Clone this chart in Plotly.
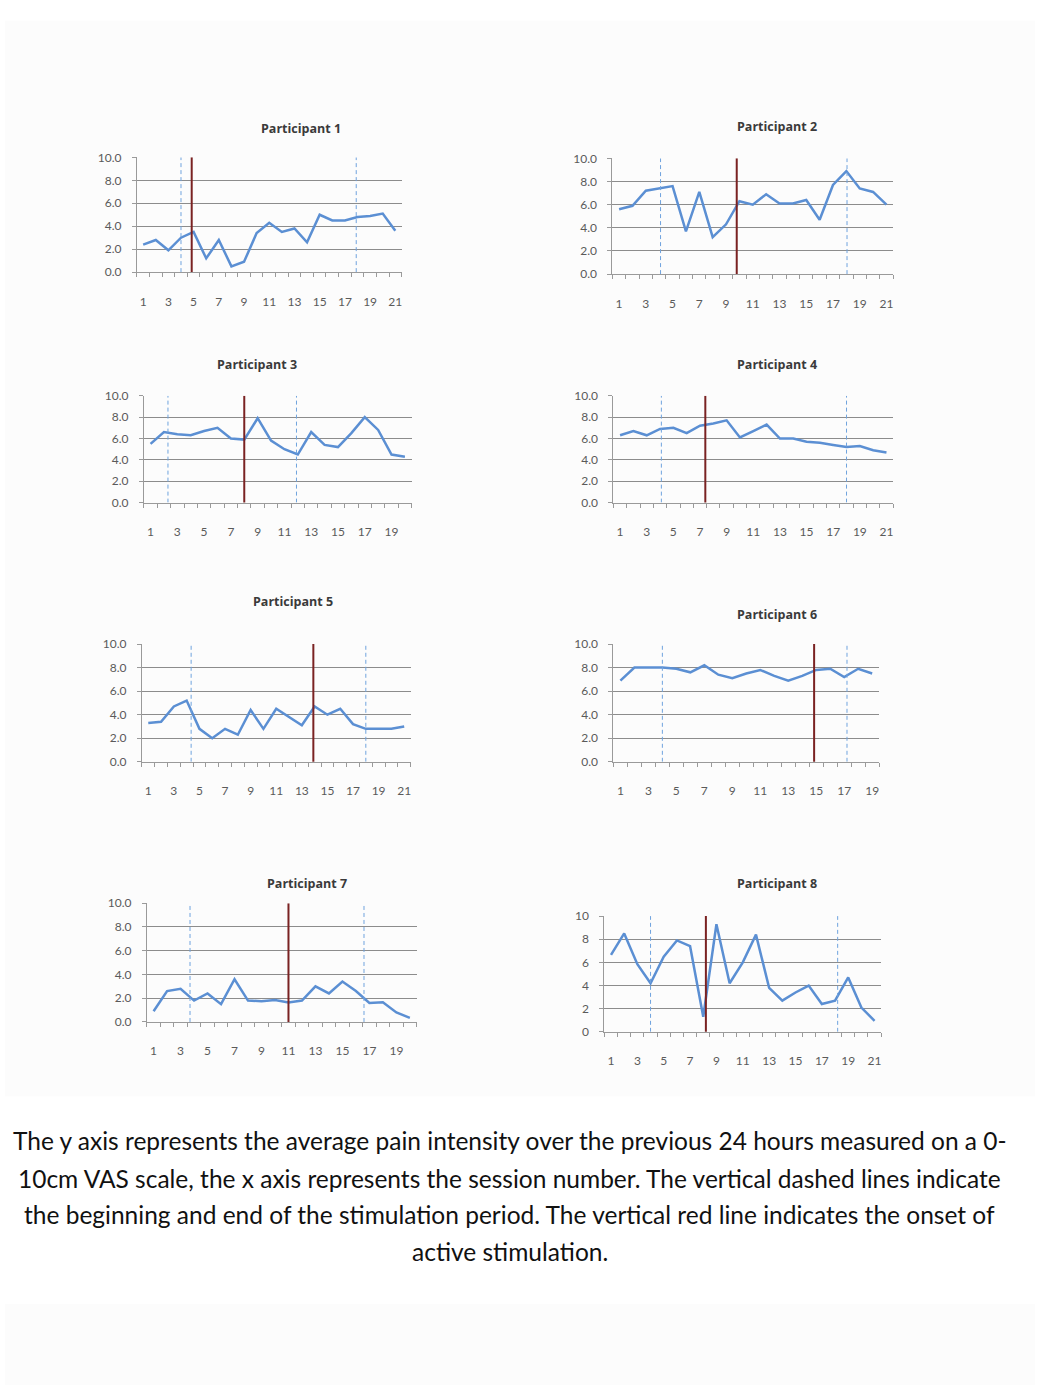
import plotly.graph_objects as go

W, H = 1044, 1392

# ---------------- data ----------------
titles = ["Participant 1", "Participant 2", "Participant 3", "Participant 4",
          "Participant 5", "Participant 6", "Participant 7", "Participant 8"]

p1 = [2.4, 2.8, 1.9, 3.0, 3.5, 1.2, 2.8, 0.5, 0.9, 3.4, 4.3, 3.5, 3.8, 2.6, 5.0, 4.5, 4.5, 4.8, 4.9, 5.1, 3.6]
p2 = [5.6, 5.9, 7.2, 7.4, 7.6, 3.7, 7.1, 3.2, 4.3, 6.3, 6.0, 6.9, 6.1, 6.1, 6.4, 4.7, 7.7, 8.9, 7.4, 7.1, 6.0]
p3 = [5.5, 6.6, 6.4, 6.3, 6.7, 7.0, 6.0, 5.9, 7.9, 5.8, 5.0, 4.5, 6.6, 5.4, 5.2, 6.5, 8.0, 6.8, 4.5, 4.3]
p4 = [6.3, 6.7, 6.3, 6.9, 7.0, 6.5, 7.2, 7.4, 7.7, 6.1, 6.7, 7.3, 6.0, 6.0, 5.7, 5.6, 5.4, 5.2, 5.3, 4.9, 4.7]
p5 = [3.3, 3.4, 4.7, 5.2, 2.8, 2.0, 2.8, 2.3, 4.4, 2.8, 4.5, 3.8, 3.1, 4.7, 4.0, 4.5, 3.2, 2.8, 2.8, 2.8, 3.0]
p6 = [6.9, 8.0, 8.0, 8.0, 7.9, 7.6, 8.2, 7.4, 7.1, 7.5, 7.8, 7.3, 6.9, 7.3, 7.8, 7.9, 7.2, 7.9, 7.5]
p7 = [0.9, 2.6, 2.8, 1.8, 2.4, 1.5, 3.6, 1.8, 1.75, 1.85, 1.65, 1.8, 3.0, 2.4, 3.4, 2.6, 1.6, 1.65, 0.8, 0.35]
p8 = [6.65, 8.5, 5.85, 4.2, 6.5, 7.9, 7.4, 1.3, 9.3, 4.2, 6.0, 8.4, 3.8, 2.7, 3.4, 4.0, 2.4, 2.7, 4.7, 2.1, 0.95]
series = [p1, p2, p3, p4, p5, p6, p7, p8]

# session positions of stimulation period (dashed) and active onset (red)
dashed_sessions = [[4.0, 17.9], [4.1, 18.05], [2.3, 11.9], [4.1, 18.0],
                   [4.35, 18.0], [4.0, 17.2], [3.7, 16.6], [4.0, 18.2]]
onset_sessions = [4.85, 9.8, 8.0, 7.4, 13.9, 14.85, 11.0, 8.2]

y_ticks = [0, 2, 4, 6, 8, 10]
y_formats = [".1f"] * 7 + ["d"]

caption_lines = [
    "The y axis represents the average pain intensity over the previous 24 hours measured on a 0-",
    "10cm VAS scale, the x axis represents the session number. The vertical dashed lines indicate",
    "the beginning and end of the stimulation period. The vertical red line indicates the onset of",
    "active stimulation.",
]

# ---------------- layout geometry (pixels) ----------------
boxes = [  # x0, x1, y_top, y_bottom
    (137, 402, 151, 267),
    (613, 894, 152, 269),
    (144, 412, 392, 500),
    (614, 894, 392, 500),
    (142, 411, 643, 762),
    (614, 880, 643, 762),
    (147, 417, 905, 1025),
    (605, 882, 918, 1035),
]
title_pos = [(301, 122), (778, 120), (257, 360), (778, 360),
             (293, 600), (778, 613), (307, 885), (778, 885)]

LINE = "#5b8fd3"
GRID = "#8c8c8c"
AXIS = "#9a9a9a"
TICKF = dict(family="Lato, 'Open Sans', sans-serif", size=12, color="#5a5a5a")

fig = go.Figure()

# faint picture background blocks
fig.add_shape(type="rect", xref="paper", yref="paper",
              x0=5 / W, x1=1036 / W, y0=1 - 1100 / H, y1=1 - 13 / H,
              fillcolor="#fcfcfc", line_width=0, layer="below")
fig.add_shape(type="rect", xref="paper", yref="paper",
              x0=5 / W, x1=1036 / W, y0=0, y1=1 - 1310 / H,
              fillcolor="#fcfcfc", line_width=0, layer="below")

for i, vals in enumerate(series):
    n = len(vals)
    k = "" if i == 0 else str(i + 1)
    xa, ya = "x" + k, "y" + k
    sessions = list(range(1, n + 1))
    fig.add_trace(go.Scatter(x=sessions, y=vals, mode="lines",
                             line=dict(color=LINE, width=2.5),
                             xaxis=xa, yaxis=ya, showlegend=False))
    x0, x1, yt, yb = boxes[i]
    fig.layout["xaxis" + k] = dict(
        domain=[x0 / W, x1 / W], anchor=ya, range=[0.5, n + 0.5],
        tickmode="array", tickvals=sessions[::2], ticktext=[str(s) for s in sessions[::2]],
        ticks="", showgrid=False, zeroline=False,
        showline=True, linecolor=AXIS, linewidth=1,
        tickfont=TICKF, ticklabelstandoff=18,
        minor=dict(tickmode="linear", tick0=0.5, dtick=1, ticks="outside",
                   ticklen=4, tickcolor=AXIS, showgrid=False),
        fixedrange=True,
    )
    fig.layout["yaxis" + k] = dict(
        domain=[1 - yb / H, 1 - yt / H], anchor=xa, range=[0, 10],
        tickmode="array", tickvals=y_ticks,
        ticktext=[format(v, y_formats[i]) if y_formats[i] == "d" else format(float(v), y_formats[i]) for v in y_ticks],
        ticks="outside", ticklen=4, tickcolor=AXIS,
        showgrid=True, gridcolor=GRID, gridwidth=1, zeroline=False,
        showline=True, linecolor=AXIS, linewidth=1,
        tickfont=TICKF, ticklabelstandoff=8, fixedrange=True,
    )
    # dashed stimulation-period lines
    for d in dashed_sessions[i]:
        fig.add_shape(type="line", xref=xa, yref=ya, x0=d, x1=d, y0=0, y1=10,
                      line=dict(color="#6fa3de", width=1, dash="4px,3px"))
    # red onset line
    o = onset_sessions[i]
    fig.add_shape(type="line", xref=xa, yref=ya, x0=o, x1=o, y0=-0.2, y1=10,
                  line=dict(color="#7a2222", width=2))
    tx, ty = title_pos[i]
    fig.add_annotation(xref="paper", yref="paper", x=tx / W, y=1 - ty / H,
                       text="<b>" + titles[i] + "</b>", showarrow=False,
                       xanchor="center", yanchor="middle",
                       font=dict(family="'Open Sans', Lato, sans-serif", size=12.5, color="#3a3a3a"))

cap_y = [1145, 1183, 1220, 1257]
for line_text, cy in zip(caption_lines, cap_y):
    fig.add_annotation(xref="paper", yref="paper", x=510 / W, y=1 - cy / H,
                       text=line_text, showarrow=False, xanchor="center", yanchor="middle",
                       font=dict(family="Lato, 'Open Sans', sans-serif", size=24.5, color="#111111"))

fig.update_layout(width=W, height=H, margin=dict(l=0, r=0, t=0, b=0),
                  paper_bgcolor="white", plot_bgcolor="rgba(0,0,0,0)")

fig.write_html("out.html", config={"displayModeBar": False},
               post_script="document.body.style.margin='0';document.body.style.padding='0';")
